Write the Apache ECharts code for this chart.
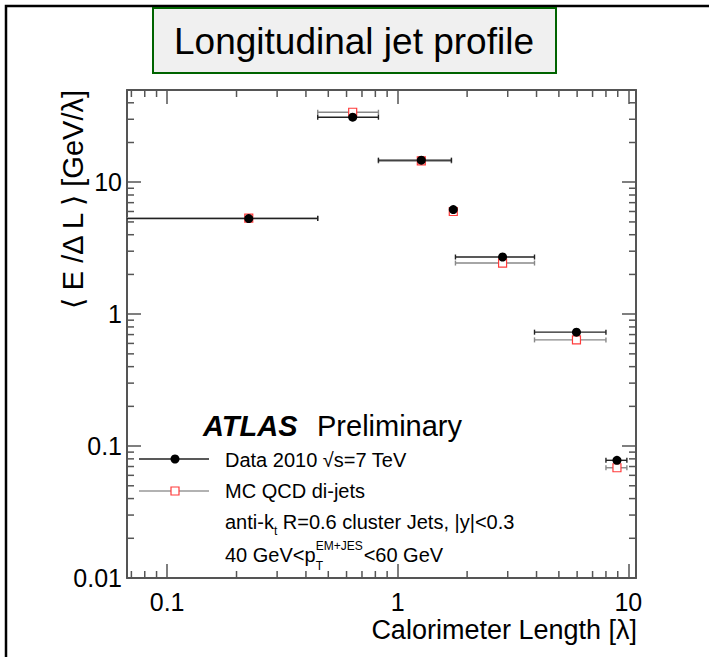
<!DOCTYPE html>
<html>
<head>
<meta charset="utf-8">
<title>Longitudinal jet profile</title>
<script src="https://cdn.jsdelivr.net/npm/echarts@6/dist/echarts.min.js"></script>
<style>
  html, body { margin: 0; padding: 0; background: #fff; }
  #chart { width: 709px; height: 657px; }
</style>
</head>
<body>
<div id="chart"></div>
<script>
const FONT = '"Liberation Sans", Arial, Helvetica, sans-serif';

// bins in calorimeter length [lambda] (lower edge 0 for the first one)
const binLow = [0, 0.45, 0.825, 1.71, 1.78, 3.92, 8.0];
const binHigh = [0.45, 0.825, 1.71, 1.78, 3.92, 8.0, 9.86];
const binCenter = [0.226, 0.638, 1.266, 1.742, 2.85, 5.96, 8.93];

// <E / dL> [GeV/lambda]
const dataValues = [5.3, 31.1, 14.7, 6.2, 2.71, 0.73, 0.078];
const mcValues = [5.35, 33.9, 14.5, 6.0, 2.44, 0.638, 0.0685];

const xRange = [0.067, 10.8];
const yRange = [0.01, 50];
const xMinorTicks = [0.07, 0.08, 0.09, 0.2, 0.3, 0.4, 0.5, 0.6, 0.7, 0.8, 0.9, 2, 3, 4, 5, 6, 7, 8, 9];
const yMinorTicks = [0.02, 0.03, 0.04, 0.05, 0.06, 0.07, 0.08, 0.09,
  0.2, 0.3, 0.4, 0.5, 0.6, 0.7, 0.8, 0.9, 2, 3, 4, 5, 6, 7, 8, 9, 20, 30, 40];

const axisColor = '#555';
const MINOR = 7;

const chart = echarts.init(document.getElementById('chart'), null, { renderer: 'svg' });

function textWidth(text, size, weight, style) {
  const ctx = document.createElement('canvas').getContext('2d');
  ctx.font = (style || 'normal') + ' ' + (weight || 'normal') + ' ' + size + 'px ' + FONT;
  return ctx.measureText(text).width;
}

// only label powers of ten, like ROOT does
function decadeLabel(v) {
  const l = Math.log10(v);
  if (Math.abs(l - Math.round(l)) > 1e-6) return '';
  return String(Number(v.toPrecision(6)));
}

function logAxis(extra) {
  return Object.assign({
    type: 'log',
    logBase: 10,
    axisLine: { show: true, lineStyle: { color: axisColor, width: 2 } },
    axisTick: { show: true, inside: true, length: 14, lineStyle: { color: axisColor, width: 1.5 } },
    splitLine: { show: false },
    minorTick: { show: false }
  }, extra);
}

function errorBars(values, color, z) {
  return {
    type: 'custom',
    coordinateSystem: 'cartesian2d',
    silent: true,
    clip: true,
    z: z,
    encode: { x: [0, 2], y: 1 },
    data: binLow.map((lo, i) => [lo, values[i], binHigh[i]]),
    renderItem: function (params, api) {
      const lo = api.value(0);
      const y = api.value(1);
      const p0 = api.coord([Math.max(lo, xRange[0]), y]);
      const p1 = api.coord([api.value(2), y]);
      const st = { stroke: color, lineWidth: 1.4 };
      const kids = [
        { type: 'line', shape: { x1: p0[0], y1: p0[1], x2: p1[0], y2: p1[1] }, style: st },
        { type: 'line', shape: { x1: p1[0], y1: p1[1] - 2.5, x2: p1[0], y2: p1[1] + 2.5 }, style: st }
      ];
      if (lo > xRange[0]) {
        kids.push({ type: 'line', shape: { x1: p0[0], y1: p0[1] - 2.5, x2: p0[0], y2: p0[1] + 2.5 }, style: st });
      }
      return { type: 'group', children: kids };
    }
  };
}

const minorX = {
  type: 'custom',
  coordinateSystem: 'cartesian2d',
  silent: true,
  clip: false,
  z: 1,
  data: xMinorTicks.map(v => [v, yRange[0]]),
  renderItem: function (params, api) {
    const b = api.coord([api.value(0), yRange[0]]);
    const t = api.coord([api.value(0), yRange[1]]);
    const st = { stroke: axisColor, lineWidth: 1.5 };
    return { type: 'group', children: [
      { type: 'line', shape: { x1: b[0], y1: b[1], x2: b[0], y2: b[1] - MINOR }, style: st },
      { type: 'line', shape: { x1: t[0], y1: t[1], x2: t[0], y2: t[1] + MINOR }, style: st }
    ] };
  }
};

const minorY = {
  type: 'custom',
  coordinateSystem: 'cartesian2d',
  silent: true,
  clip: false,
  z: 1,
  data: yMinorTicks.map(v => [xRange[0], v]),
  renderItem: function (params, api) {
    const l = api.coord([xRange[0], api.value(1)]);
    const r = api.coord([xRange[1], api.value(1)]);
    const st = { stroke: axisColor, lineWidth: 1.5 };
    return { type: 'group', children: [
      { type: 'line', shape: { x1: l[0], y1: l[1], x2: l[0] + MINOR, y2: l[1] }, style: st },
      { type: 'line', shape: { x1: r[0], y1: r[1], x2: r[0] - MINOR, y2: r[1] }, style: st }
    ] };
  }
};

// legend / labels
const LX = 225;
const LSIZE = 20;
const SMALL = 12;
const wAntiK = textWidth('anti-k', LSIZE);
const wP = textWidth('40 GeV<p', LSIZE);
const wSup = textWidth('EM+JES', SMALL);
const wT = textWidth('t', SMALL);

function txt(x, y, text, size, extra) {
  return {
    type: 'text', x: x, y: y, z: 20,
    style: Object.assign({
      text: text, fontSize: size, fontFamily: FONT, fill: '#000',
      align: 'left', verticalAlign: 'middle'
    }, extra || {})
  };
}

const graphics = [
  // outer frame
  { type: 'rect', z: 0, shape: { x: 6, y: 6, width: 740, height: 700 },
    style: { fill: 'none', stroke: '#000', lineWidth: 2.5 } },
  // title box
  { type: 'rect', z: 10, shape: { x: 153, y: 8, width: 403, height: 65 },
    style: { fill: '#f0f0f0', stroke: '#006400', lineWidth: 2 } },
  txt(354, 41, 'Longitudinal jet profile', 37, { align: 'center' }),
  // axis titles
  { type: 'text', x: 73, y: 90, rotation: Math.PI / 2, z: 20,
    style: { text: '⟨ E /Δ L ⟩ [GeV/λ]', fontSize: 29, fontFamily: FONT, fill: '#000',
      align: 'right', verticalAlign: 'middle' } },
  txt(637, 630, 'Calorimeter Length [λ]', 27, { align: 'right' }),
  // ATLAS Preliminary
  txt(203, 426, 'ATLAS', 29, { fontWeight: 'bold', fontStyle: 'italic' }),
  txt(317, 426, 'Preliminary', 29),
  // data entry
  { type: 'line', z: 20, shape: { x1: 139, y1: 459, x2: 209, y2: 459 }, style: { stroke: '#222', lineWidth: 1.4 } },
  { type: 'circle', z: 21, shape: { cx: 175, cy: 459, r: 4.5 }, style: { fill: '#000' } },
  txt(LX, 460, 'Data 2010 √s=7 TeV', LSIZE),
  // mc entry
  { type: 'line', z: 20, shape: { x1: 139, y1: 491, x2: 209, y2: 491 }, style: { stroke: '#999', lineWidth: 1.4 } },
  { type: 'rect', z: 21, shape: { x: 171, y: 487, width: 8, height: 8 }, style: { fill: '#fff', stroke: '#ff3b3b', lineWidth: 1.2 } },
  txt(LX, 491, 'MC QCD di-jets', LSIZE),
  // jet definition
  txt(LX, 522, 'anti-k', LSIZE),
  txt(LX + wAntiK, 531, 't', SMALL),
  txt(LX + wAntiK + wT, 522, ' R=0.6 cluster Jets, |y|<0.3', LSIZE),
  // pT range
  txt(LX, 555, '40 GeV<p', LSIZE),
  txt(LX + wP, 546, 'EM+JES', SMALL),
  txt(LX + wP, 566, 'T', SMALL),
  txt(LX + wP + wSup + 1, 555, '<60 GeV', LSIZE)
];

chart.setOption({
  animation: false,
  backgroundColor: '#fff',
  grid: { left: 127, right: 73, top: 90, bottom: 79, containLabel: false, outerBoundsMode: 'none' },
  xAxis: [
    logAxis({
      position: 'bottom', min: xRange[0], max: xRange[1],
      axisLabel: { fontSize: 25, fontFamily: FONT, color: '#000', margin: 11, formatter: decadeLabel }
    }),
    logAxis({
      position: 'top', min: xRange[0], max: xRange[1],
      axisLabel: { show: false }
    })
  ],
  yAxis: [
    logAxis({
      position: 'left', min: yRange[0], max: yRange[1],
      axisLabel: { fontSize: 25, fontFamily: FONT, color: '#000', margin: 5, formatter: decadeLabel }
    }),
    logAxis({
      position: 'right', min: yRange[0], max: yRange[1],
      axisLabel: { show: false }
    })
  ],
  series: [
    minorX,
    minorY,
    errorBars(mcValues, '#888', 2),
    {
      name: 'MC QCD di-jets',
      type: 'scatter',
      z: 3,
      symbol: 'rect',
      symbolSize: 8,
      itemStyle: { color: '#fff', borderColor: '#ff3b3b', borderWidth: 1.2, opacity: 1 },
      data: binCenter.map((x, i) => [x, mcValues[i]])
    },
    errorBars(dataValues, '#222', 4),
    {
      name: 'Data 2010',
      type: 'scatter',
      z: 5,
      symbol: 'circle',
      symbolSize: 9,
      itemStyle: { color: '#000', opacity: 1 },
      data: binCenter.map((x, i) => [x, dataValues[i]])
    }
  ],
  graphic: graphics
});
</script>
</body>
</html>
